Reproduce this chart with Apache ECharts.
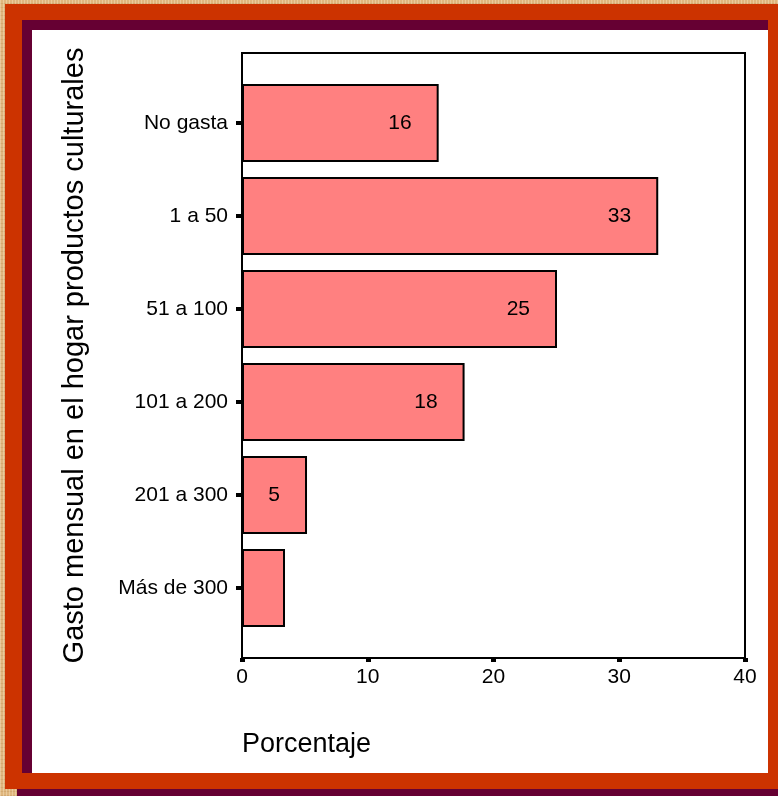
<!DOCTYPE html>
<html>
<head>
<meta charset="utf-8">
<script src="https://cdn.jsdelivr.net/npm/echarts@6/dist/echarts.min.js"></script>
<style>
html,body{margin:0;padding:0;width:778px;height:796px;overflow:hidden;}
body{position:relative;background:#dfb67e;
background-image:repeating-linear-gradient(90deg,rgba(255,240,210,0.35) 0 1px,rgba(0,0,0,0) 1px 3px),repeating-linear-gradient(0deg,rgba(160,110,50,0.18) 0 1px,rgba(0,0,0,0) 1px 4px);}
.b{position:absolute;}
#chart{position:absolute;left:0;top:0;width:778px;height:796px;}
</style>
</head>
<body>
<div class="b" style="left:17px;top:17px;right:0;bottom:0;background:#660033;"></div>
<div class="b" style="left:5px;top:4px;width:790px;height:785px;background:#cc3300;"></div>
<div class="b" style="left:22px;top:20px;width:746px;height:753px;background:#660033;"></div>
<div class="b" style="left:32px;top:30px;width:736px;height:743px;background:#ffffff;"></div>
<div id="chart"></div>
<script>
const categories = ['No gasta', '1 a 50', '51 a 100', '101 a 200', '201 a 300', 'Más de 300'];
const values = [15.64, 33.1, 25.05, 17.7, 5.17, 3.42];
const barLabels = ['16', '33', '25', '18', '5', ''];
const xTicks = [0, 10, 20, 30, 40];
const yTitle = 'Gasto mensual en el hogar productos culturales';
const xTitle = 'Porcentaje';

const FONT = 'Liberation Sans, Arial, sans-serif';
const chart = echarts.init(document.getElementById('chart'));
chart.setOption({
  animation: false,
  title: {
    text: xTitle, left: 242, top: 731, padding: 0,
    textStyle: {fontFamily: FONT, fontSize: 27, fontWeight: 'normal', color: '#000'}
  },
  grid: [
    {left: 242, right: 33, top: 76.5, bottom: 161.5, containLabel: false},
    {left: 242, right: 33, top: 53, bottom: 138, show: true, borderColor: '#000', borderWidth: 2, backgroundColor: 'transparent', z: 10}
  ],
  xAxis: [
    {
      type: 'value', gridIndex: 0, min: xTicks[0], max: xTicks[xTicks.length - 1], interval: 10,
      offset: 23.5,
      axisLine: {show: false},
      axisTick: {show: true, length: 4, lineStyle: {color: '#000', width: 5}},
      axisLabel: {margin: 9, fontFamily: FONT, fontSize: 21, color: '#000'},
      splitLine: {show: false}
    },
    {type: 'value', gridIndex: 1, show: false, min: 0, max: 40}
  ],
  yAxis: [
    {
      type: 'category', gridIndex: 0, data: categories, inverse: true,
      axisLine: {show: false},
      axisTick: {show: true, alignWithLabel: true, length: 6, lineStyle: {color: '#000', width: 4}},
      axisLabel: {margin: 14, fontFamily: FONT, fontSize: 21, color: '#000'},
      name: yTitle, nameLocation: 'middle', nameRotate: 90, nameGap: 153,
      nameTextStyle: {fontFamily: FONT, fontSize: 29, color: '#000'}
    },
    {type: 'category', gridIndex: 1, show: false, data: categories}
  ],
  series: [{
    type: 'bar', xAxisIndex: 0, yAxisIndex: 0,
    data: values, barWidth: 78,
    itemStyle: {color: '#ff8080', borderColor: '#000', borderWidth: 2},
    label: {
      show: true, position: 'insideRight', distance: 27,
      fontFamily: FONT, fontSize: 21, color: '#000',
      formatter: p => barLabels[p.dataIndex]
    }
  }]
});
</script>
</body>
</html>
